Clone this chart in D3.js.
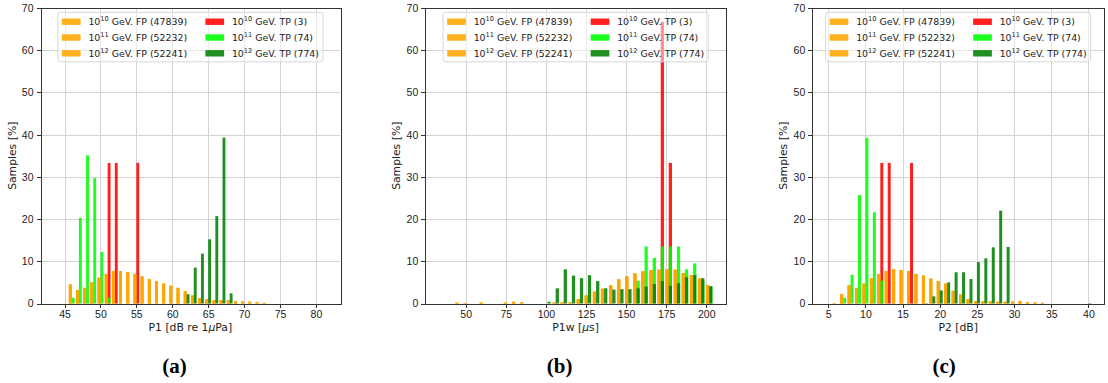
<!DOCTYPE html>
<html>
<head>
<meta charset="utf-8">
<script src="https://cdn.jsdelivr.net/npm/d3@7"></script>
<style>
  body { margin: 0; background: #fff; }
  svg { display: block; font-family: "DejaVu Sans", sans-serif; }
  .grid line { stroke: #d4d4d4; stroke-width: 1; shape-rendering: crispEdges; }
  .axis path, .axis line { stroke: #333; shape-rendering: crispEdges; }
  .axis text { font-size: 10.5px; fill: #222; }
  .frame { fill: none; stroke: #333; shape-rendering: crispEdges; }
  .lbl { font-size: 10.8px; fill: #222; }
  .caption { font-family: "Liberation Serif", serif; font-weight: bold; font-size: 21px; }
  .legend text { font-size: 9.4px; fill: #222; }
</style>
</head>
<body>
<svg id="chart" width="1108" height="383"></svg>
<script>
// ---- data (percent of samples per histogram bin) ----
var energies = ["10", "11", "12"];
var fpCounts = [47839, 52232, 52241];
var tpCounts = [3, 74, 774];
var yTicks = [0, 10, 20, 30, 40, 50, 60, 70];

// (a) P1 [dB re 1uPa], bins of 1 dB
var p1Bins  = [46, 47, 48, 49, 50, 51, 52, 53, 54, 55, 56, 57, 58, 59, 60, 61, 62, 63, 64, 65, 66, 67, 68, 69, 70, 71, 72, 73];
var p1Fp10  = [4.5, 3.2, 3.7, 5.0, 6.1, 7.0, 7.7, 7.7, 7.4, 7.0, 6.4, 5.8, 5.3, 4.7, 4.2, 3.7, 2.9, 1.9, 1.3, 1.0, 0.8, 0.8, 0.8, 0.55, 0.5, 0.4, 0.3, 0.15];
var p1Fp11  = [4.5, 3.2, 3.7, 5.0, 6.1, 7.0, 7.7, 7.7, 7.4, 7.0, 6.4, 5.8, 5.3, 4.7, 4.2, 3.7, 2.9, 1.9, 1.3, 1.0, 0.8, 0.8, 0.8, 0.55, 0.5, 0.4, 0.3, 0.15];
var p1Fp12  = [4.5, 3.2, 3.7, 5.0, 6.1, 7.0, 7.7, 7.7, 7.4, 7.0, 6.4, 5.8, 5.3, 4.7, 4.2, 3.7, 2.9, 1.9, 1.3, 1.0, 0.8, 0.8, 0.8, 0.55, 0.5, 0.4, 0.3, 0.15];
var p1Tp10  = [0, 0, 0, 0, 0, 33.3, 33.3, 0, 0, 33.3, 0, 0, 0, 0, 0, 0, 0, 0, 0, 0, 0, 0, 0, 0, 0, 0, 0, 0];
var p1Tp11  = [1.35, 20.3, 35.1, 29.7, 12.2, 1.35, 0, 0, 0, 0, 0, 0, 0, 0, 0, 0, 0, 0, 0, 0, 0, 0, 0, 0, 0, 0, 0, 0];
var p1Tp12  = [0, 0, 0, 0, 0, 0, 0, 0, 0, 0, 0, 0, 0, 0, 0, 0, 2.2, 8.5, 11.8, 15.2, 20.7, 39.3, 2.4, 0, 0, 0, 0, 0];
var p1Ticks = [45, 50, 55, 60, 65, 70, 75, 80];

// (b) P1w [us], bins of ~5 us
var p1wBins = [45.6, 50.6, 55.7, 60.7, 65.8, 70.8, 75.8, 80.9, 85.9, 91.0, 96.0, 101.0, 106.1, 111.1, 116.2, 121.2, 126.2, 131.3, 136.3, 141.4, 146.4, 151.4, 156.5, 161.5, 166.6, 171.6, 176.6, 181.7, 186.7, 191.8, 196.8, 201.8];
var p1wFp10 = [0.2, 0.1, 0, 0.2, 0, 0, 0.2, 0.4, 0.25, 0, 0, 0, 0.2, 0.3, 0.3, 1.0, 1.9, 2.8, 3.5, 4.3, 5.7, 6.4, 7.1, 7.6, 7.9, 8.0, 8.1, 8.0, 7.2, 6.7, 5.9, 4.3];
var p1wFp11 = [0.2, 0.1, 0, 0.2, 0, 0, 0.2, 0.4, 0.25, 0, 0, 0, 0.2, 0.3, 0.3, 1.0, 1.9, 2.8, 3.5, 4.3, 5.7, 6.4, 7.1, 7.6, 7.9, 8.0, 8.1, 8.0, 7.2, 6.7, 5.9, 4.3];
var p1wFp12 = [0.2, 0.1, 0, 0.2, 0, 0, 0.2, 0.4, 0.25, 0, 0, 0, 0.2, 0.3, 0.3, 1.0, 1.9, 2.8, 3.5, 4.3, 5.7, 6.4, 7.1, 7.6, 7.9, 8.0, 8.1, 8.0, 7.2, 6.7, 5.9, 4.3];
var p1wTp10 = [0, 0, 0, 0, 0, 0, 0, 0, 0, 0, 0, 0, 0, 0, 0, 0, 0, 0, 0, 0, 0, 0, 0, 0, 0, 66.7, 33.3, 0, 0, 0, 0, 0];
var p1wTp11 = [0, 0, 0, 0, 0, 0, 0, 0, 0, 0, 0, 0, 0, 0, 0, 0, 0, 0, 0, 0, 0, 0, 5.4, 13.5, 10.8, 13.5, 13.5, 13.5, 8.1, 9.5, 5.4, 4.1];
var p1wTp12 = [0, 0, 0, 0, 0, 0, 0, 0, 0, 0, 0, 0.4, 3.6, 8.1, 6.6, 6.0, 6.7, 5.3, 3.6, 3.3, 3.4, 3.4, 3.6, 4.0, 4.6, 5.3, 4.2, 4.8, 6.2, 6.7, 6.0, 4.1];
var p1wTicks = [50, 75, 100, 125, 150, 175, 200];

// (c) P2 [dB], bins of 1 dB
var p2Bins  = [6, 7, 8, 9, 10, 11, 12, 13, 14, 15, 16, 17, 18, 19, 20, 21, 22, 23, 24, 25, 26, 27, 28, 29, 30, 31, 32, 33, 34, 35, 36, 37, 38, 39, 40];
var p2Fp10  = [0.1, 2.2, 4.3, 3.6, 4.7, 6.0, 7.0, 7.7, 8.1, 7.9, 7.7, 7.0, 6.6, 5.9, 5.3, 4.7, 3.0, 2.1, 1.0, 0.55, 0.55, 0.55, 0.4, 0.4, 0.45, 0.55, 0.3, 0.25, 0.15, 0, 0, 0, 0, 0, 0];
var p2Fp11  = [0.1, 2.2, 4.3, 3.6, 4.7, 6.0, 7.0, 7.7, 8.1, 7.9, 7.7, 7.0, 6.6, 5.9, 5.3, 4.7, 3.0, 2.1, 1.0, 0.55, 0.55, 0.55, 0.4, 0.4, 0.45, 0.55, 0.3, 0.25, 0.15, 0, 0, 0, 0, 0, 0];
var p2Fp12  = [0.1, 2.2, 4.3, 3.6, 4.7, 6.0, 7.0, 7.7, 8.1, 7.9, 7.7, 7.0, 6.6, 5.9, 5.3, 4.7, 3.0, 2.1, 1.0, 0.55, 0.55, 0.55, 0.4, 0.4, 0.45, 0.55, 0.3, 0.25, 0.15, 0, 0, 0, 0, 0, 0];
var p2Tp10  = [0, 0, 0, 0, 0, 0, 33.3, 33.3, 0, 0, 33.3, 0, 0, 0, 0, 0, 0, 0, 0, 0, 0, 0, 0, 0, 0, 0, 0, 0, 0, 0, 0, 0, 0, 0, 0];
var p2Tp11  = [0, 1.35, 6.8, 25.7, 39.2, 21.6, 5.4, 0, 0, 0, 0, 0, 0, 0, 0, 0, 0, 0, 0, 0, 0, 0, 0, 0, 0, 0, 0, 0, 0, 0, 0, 0, 0, 0, 0];
var p2Tp12  = [0, 0, 0, 0, 0, 0, 0, 0, 0, 0, 0, 0, 0.1, 1.7, 3.1, 5.0, 7.4, 7.4, 5.8, 9.8, 10.7, 13.3, 22.0, 13.4, 0, 0, 0, 0, 0, 0, 0, 0, 0, 0, 0.1];
var p2Ticks = [5, 10, 15, 20, 25, 30, 35, 40];

var fpColor = "#ffa500";
var tpColors = ["#ff0000", "#00ff00", "#008000"];

var panels = [
  { bins: p1Bins, binW: 1, fp: [p1Fp10, p1Fp11, p1Fp12], tp: [p1Tp10, p1Tp11, p1Tp12],
    ticks: p1Ticks, domain: [41.65, 83.4], left: 40.5, right: 340.3,
    xlabel: ["P1 [dB re 1", "\u03bc", "Pa]"], caption: "(a)", capDx: -16 },
  { bins: p1wBins, binW: 5.04, fp: [p1wFp10, p1wFp11, p1wFp12], tp: [p1wTp10, p1wTp11, p1wTp12],
    ticks: p1wTicks, domain: [24.8, 212.3], left: 425.3, right: 726,
    xlabel: ["P1w [", "\u03bc", "s]"], caption: "(b)", capDx: -16 },
  { bins: p2Bins, binW: 1, fp: [p2Fp10, p2Fp11, p2Fp12], tp: [p2Tp10, p2Tp11, p2Tp12],
    ticks: p2Ticks, domain: [2.85, 42.1], left: 812.3, right: 1104,
    xlabel: ["P2 [dB]"], caption: "(c)", capDx: -14 }
];

var plotTop = 8, plotBottom = 303.5;
var svg = d3.select("#chart");

var y = d3.scaleLinear().domain([0, 70]).range([plotBottom, plotTop]);

panels.forEach(function(p) {
  var x = d3.scaleLinear().domain(p.domain).range([p.left, p.right]);
  var g = svg.append("g");

  // grid
  var grid = g.append("g").attr("class", "grid");
  grid.selectAll(".gx").data(p.ticks).enter().append("line")
    .attr("x1", function(d) { return Math.round(x(d)) + 0.5; })
    .attr("x2", function(d) { return Math.round(x(d)) + 0.5; })
    .attr("y1", plotTop).attr("y2", plotBottom);
  grid.selectAll(".gy").data(yTicks).enter().append("line")
    .attr("y1", function(d) { return Math.round(y(d)) + 0.5; })
    .attr("y2", function(d) { return Math.round(y(d)) + 0.5; })
    .attr("x1", p.left).attr("x2", p.right);

  // bars: one hist call per energy -> FP left half, TP right half of the bin
  var w = p.binW * 0.4;
  energies.forEach(function(e, k) {
    [[p.fp[k], fpColor, -w], [p.tp[k], tpColors[k], 0]].forEach(function(s) {
      g.append("g").selectAll("rect")
        .data(p.bins.map(function(c, i) { return { c: c, v: s[0][i] }; })
          .filter(function(d) { return d.v > 0; }))
        .enter().append("rect")
        .attr("x", function(d) { return x(d.c + s[2]); })
        .attr("width", function(d) { return x(d.c + s[2] + w) - x(d.c + s[2]); })
        .attr("y", function(d) { return y(d.v); })
        .attr("height", function(d) { return plotBottom - y(d.v); })
        .attr("fill", s[1])
        .attr("fill-opacity", 0.88);
    });
  });

  // axes
  g.append("g").attr("class", "axis")
    .attr("transform", "translate(0," + plotBottom + ")")
    .call(d3.axisBottom(x).tickValues(p.ticks).tickSize(4).tickPadding(3).tickSizeOuter(0))
    .select(".domain").remove();
  g.append("g").attr("class", "axis")
    .attr("transform", "translate(" + p.left + ",0)")
    .call(d3.axisLeft(y).tickValues(yTicks).tickSize(4).tickPadding(3).tickSizeOuter(0))
    .select(".domain").remove();
  g.append("rect").attr("class", "frame")
    .attr("x", Math.round(p.left) + 0.5).attr("y", plotTop + 0.5)
    .attr("width", Math.round(p.right - p.left)).attr("height", plotBottom - plotTop);

  // labels
  var cx = (p.left + p.right) / 2;
  var xl = g.append("text").attr("class", "lbl")
    .attr("x", cx).attr("y", 331).attr("text-anchor", "middle");
  p.xlabel.forEach(function(s, i) {
    xl.append("tspan").style("font-style", i === 1 ? "italic" : null).text(s);
  });
  g.append("text").attr("class", "lbl")
    .attr("transform", "translate(" + (p.left - 25) + "," + ((plotTop + plotBottom) / 2) + ") rotate(-90)")
    .attr("text-anchor", "middle").text("Samples [%]");
  g.append("text").attr("class", "caption")
    .attr("x", cx + p.capDx).attr("y", 373).attr("text-anchor", "middle").text(p.caption);

  // legend (upper center, two columns)
  var lw = 265, lh = 49.5;
  var lg = g.append("g").attr("class", "legend")
    .attr("transform", "translate(" + (cx - lw / 2) + "," + (plotTop + 4.3) + ")");
  lg.append("rect").attr("width", lw).attr("height", lh).attr("rx", 2.5)
    .attr("fill", "#fff").attr("fill-opacity", 0.5).attr("stroke", "#d8d8d8");
  var items = [];
  energies.forEach(function(e, k) { items.push({ col: 0, row: k, e: e, txt: " GeV. FP (" + fpCounts[k] + ")", color: fpColor }); });
  energies.forEach(function(e, k) { items.push({ col: 1, row: k, e: e, txt: " GeV. TP (" + tpCounts[k] + ")", color: tpColors[k] }); });
  items.forEach(function(it) {
    var ix = 4 + it.col * 143.5, iy = 9.4 + it.row * 15.8;
    lg.append("rect").attr("x", ix).attr("y", iy - 3.2).attr("width", 18.7).attr("height", 6.4)
      .attr("fill", it.color).attr("fill-opacity", 0.88);
    var t = lg.append("text").attr("x", ix + 26.5).attr("y", iy + 3.4);
    t.append("tspan").text("10");
    t.append("tspan").attr("dy", -3.8).style("font-size", "6.6px").text(it.e);
    t.append("tspan").attr("dy", 3.8).text(it.txt);
  });
});
</script>
</body>
</html>
